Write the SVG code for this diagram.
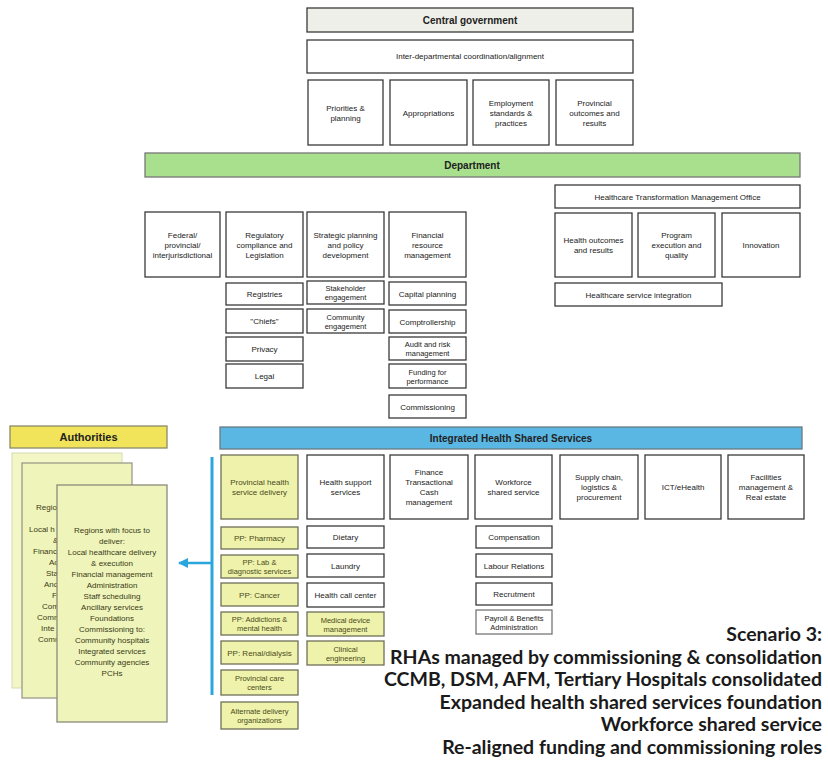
<svg xmlns="http://www.w3.org/2000/svg" width="828" height="762" viewBox="0 0 828 762">
<defs>
<style>
.bx{fill:#ffffff;stroke:#3a3a3a;stroke-width:1.3}
.yb{fill:#eef2aa;stroke:#6f6f5a;stroke-width:1.3}
.t{font-family:"Liberation Sans",Arial,sans-serif;font-size:8px;fill:#222;text-anchor:middle}
.ty{font-family:"Liberation Sans",Arial,sans-serif;font-size:8px;fill:#4a4a1c;text-anchor:middle}
.s{font-size:7.5px}
.h{font-family:"Liberation Sans",Arial,sans-serif;font-size:10px;font-weight:bold;fill:#222;text-anchor:middle}
.big{font-family:Lato,"Liberation Sans",sans-serif;font-size:19.5px;font-weight:bold;fill:#1a1a1a;text-anchor:end}
.card{font-family:"Liberation Sans",Arial,sans-serif;font-size:8px;fill:#3a3a18;text-anchor:middle}
.frag{font-family:"Liberation Sans",Arial,sans-serif;font-size:8px;fill:#3a3a18}
</style>
<clipPath id="cardclip"><rect x="22" y="463" width="35" height="235"/></clipPath>
<marker id="ah" viewBox="0 0 10 10" refX="9" refY="5" markerWidth="4" markerHeight="4" orient="auto">
<path d="M0,0 L10,5 L0,10 z" fill="#2aa6dc"/>
</marker>
</defs>
<rect width="828" height="762" fill="#ffffff"/>

<!-- Central government -->
<g id="central-government"><rect x="307" y="8" width="326" height="24" fill="#efefe9" stroke="#3a3a3a" stroke-width="1.3"/><text class="h" x="470" y="24">Central government</text></g>
<g id="inter-departmental"><rect class="bx" x="307" y="40" width="326" height="33"/><text class="t" x="470" y="59">Inter-departmental coordination/alignment</text></g>
<g id="priorities"><rect class="bx" x="308" y="80" width="75" height="65"/><text class="t"><tspan x="345.5" y="110.5">Priorities &amp;</tspan><tspan x="345.5" y="120.5">planning</tspan></text></g>
<g id="appropriations"><rect class="bx" x="390" y="80" width="77" height="65"/><text class="t" x="428.5" y="115.5">Appropriations</text></g>
<g id="employment"><rect class="bx" x="473" y="80" width="76" height="65"/><text class="t"><tspan x="511" y="105.5">Employment</tspan><tspan x="511" y="115.5">standards &amp;</tspan><tspan x="511" y="125.5">practices</tspan></text></g>
<g id="provincial-outcomes"><rect class="bx" x="556" y="80" width="77" height="65"/><text class="t"><tspan x="594.5" y="105.5">Provincial</tspan><tspan x="594.5" y="115.5">outcomes and</tspan><tspan x="594.5" y="125.5">results</tspan></text></g>

<!-- Department -->
<g id="department"><rect x="145" y="153" width="655" height="24" fill="#a8e08e" stroke="#777" stroke-width="1.3"/><text class="h" x="472" y="168.5">Department</text></g>
<g id="htmo"><rect class="bx" x="555" y="185" width="245" height="23"/><text class="t" x="677.5" y="199.5">Healthcare Transformation Management Office</text></g>
<g id="health-outcomes"><rect class="bx" x="555" y="213" width="77" height="64"/><text class="t"><tspan x="593.5" y="243">Health outcomes</tspan><tspan x="593.5" y="253">and results</tspan></text></g>
<g id="program-execution"><rect class="bx" x="638" y="213" width="77" height="64"/><text class="t"><tspan x="676.5" y="238">Program</tspan><tspan x="676.5" y="248">execution and</tspan><tspan x="676.5" y="258">quality</tspan></text></g>
<g id="innovation"><rect class="bx" x="722" y="213" width="78" height="64"/><text class="t" x="761" y="248">Innovation</text></g>
<g id="service-integration"><rect class="bx" x="555" y="283" width="167" height="23"/><text class="t" x="638.5" y="297.5">Healthcare service integration</text></g>

<g id="federal"><rect class="bx" x="145" y="212" width="75" height="65"/><text class="t"><tspan x="182.5" y="237.5">Federal/</tspan><tspan x="182.5" y="247.5">provincial/</tspan><tspan x="182.5" y="257.5">interjurisdictional</tspan></text></g>
<g id="regulatory"><rect class="bx" x="226" y="212" width="77" height="65"/><text class="t"><tspan x="264.5" y="237.5">Regulatory</tspan><tspan x="264.5" y="247.5">compliance and</tspan><tspan x="264.5" y="257.5">Legislation</tspan></text></g>
<g id="strategic"><rect class="bx" x="307" y="212" width="77" height="65"/><text class="t"><tspan x="345.5" y="237.5">Strategic planning</tspan><tspan x="345.5" y="247.5">and policy</tspan><tspan x="345.5" y="257.5">development</tspan></text></g>
<g id="financial"><rect class="bx" x="389" y="212" width="77" height="65"/><text class="t"><tspan x="427.5" y="237.5">Financial</tspan><tspan x="427.5" y="247.5">resource</tspan><tspan x="427.5" y="257.5">management</tspan></text></g>

<g id="registries"><rect class="bx" x="226" y="283" width="77" height="22"/><text class="t" x="264.5" y="297">Registries</text></g>
<g id="chiefs"><rect class="bx" x="226" y="309" width="77" height="24"/><text class="t" x="264.5" y="324">"Chiefs"</text></g>
<g id="privacy"><rect class="bx" x="226" y="337" width="77" height="24"/><text class="t" x="264.5" y="352">Privacy</text></g>
<g id="legal"><rect class="bx" x="226" y="364" width="77" height="24"/><text class="t" x="264.5" y="379">Legal</text></g>
<g id="stakeholder"><rect class="bx" x="307" y="281" width="77" height="23"/><text class="t s"><tspan x="345.5" y="291">Stakeholder</tspan><tspan x="345.5" y="300">engagement</tspan></text></g>
<g id="community"><rect class="bx" x="307" y="309" width="77" height="24"/><text class="t s"><tspan x="345.5" y="319.5">Community</tspan><tspan x="345.5" y="328.5">engagement</tspan></text></g>
<g id="capital"><rect class="bx" x="389" y="282" width="77" height="23"/><text class="t" x="427.5" y="296.5">Capital planning</text></g>
<g id="comptrollership"><rect class="bx" x="389" y="310" width="77" height="23"/><text class="t" x="427.5" y="324.5">Comptrollership</text></g>
<g id="audit"><rect class="bx" x="389" y="337" width="77" height="23"/><text class="t s"><tspan x="427.5" y="347">Audit and risk</tspan><tspan x="427.5" y="356">management</tspan></text></g>
<g id="funding"><rect class="bx" x="389" y="364" width="77" height="24"/><text class="t s"><tspan x="427.5" y="374.5">Funding for</tspan><tspan x="427.5" y="383.5">performance</tspan></text></g>
<g id="commissioning"><rect class="bx" x="389" y="395" width="77" height="23"/><text class="t" x="427.5" y="409.5">Commissioning</text></g>

<!-- Integrated Health Shared Services -->
<g id="ihss"><rect x="220" y="427" width="582" height="22" fill="#5ab6e2" stroke="#6a7a80" stroke-width="1.3"/><text class="h" x="511" y="441.5">Integrated Health Shared Services</text></g>
<g id="provincial-health"><rect class="yb" x="221" y="455" width="77" height="64"/><text class="ty"><tspan x="259.5" y="485">Provincial health</tspan><tspan x="259.5" y="495">service delivery</tspan></text></g>
<g id="health-support"><rect class="bx" x="307" y="455" width="77" height="64"/><text class="t"><tspan x="345.5" y="485">Health support</tspan><tspan x="345.5" y="495">services</tspan></text></g>
<g id="finance-transactional"><rect class="bx" x="390" y="455" width="78" height="64"/><text class="t"><tspan x="429" y="475">Finance</tspan><tspan x="429" y="485">Transactional</tspan><tspan x="429" y="495">Cash</tspan><tspan x="429" y="505">management</tspan></text></g>
<g id="workforce"><rect class="bx" x="475" y="455" width="77" height="64"/><text class="t"><tspan x="513.5" y="485">Workforce</tspan><tspan x="513.5" y="495">shared service</tspan></text></g>
<g id="supply-chain"><rect class="bx" x="560" y="455" width="78" height="64"/><text class="t"><tspan x="599" y="480">Supply chain,</tspan><tspan x="599" y="490">logistics &amp;</tspan><tspan x="599" y="500">procurement</tspan></text></g>
<g id="ict"><rect class="bx" x="645" y="455" width="76" height="64"/><text class="t" x="683" y="490">ICT/eHealth</text></g>
<g id="facilities"><rect class="bx" x="728" y="455" width="76" height="64"/><text class="t"><tspan x="766" y="480">Facilities</tspan><tspan x="766" y="490">management &amp;</tspan><tspan x="766" y="500">Real estate</tspan></text></g>

<g id="pp-pharmacy"><rect class="yb" x="221" y="527" width="77" height="22"/><text class="ty" x="259.5" y="541">PP:  Pharmacy</text></g>
<g id="pp-lab"><rect class="yb" x="221" y="555" width="77" height="23"/><text class="ty s"><tspan x="259.5" y="565">PP: Lab &amp;</tspan><tspan x="259.5" y="574">diagnostic services</tspan></text></g>
<g id="pp-cancer"><rect class="yb" x="221" y="583" width="77" height="23"/><text class="ty" x="259.5" y="597.5">PP:  Cancer</text></g>
<g id="pp-addictions"><rect class="yb" x="221" y="612" width="77" height="23"/><text class="ty s"><tspan x="259.5" y="622">PP:  Addictions &amp;</tspan><tspan x="259.5" y="631">mental health</tspan></text></g>
<g id="pp-renal"><rect class="yb" x="221" y="641" width="77" height="23"/><text class="ty" x="259.5" y="655.5">PP:  Renal/dialysis</text></g>
<g id="provincial-care"><rect class="yb" x="221" y="670" width="77" height="25"/><text class="ty s"><tspan x="259.5" y="681">Provincial care</tspan><tspan x="259.5" y="690">centers</tspan></text></g>
<g id="alternate-delivery"><rect class="yb" x="221" y="702" width="77" height="27"/><text class="ty s"><tspan x="259.5" y="714">Alternate delivery</tspan><tspan x="259.5" y="723">organizations</tspan></text></g>

<g id="dietary"><rect class="bx" x="307" y="526" width="77" height="22"/><text class="t" x="345.5" y="540">Dietary</text></g>
<g id="laundry"><rect class="bx" x="307" y="554" width="77" height="23"/><text class="t" x="345.5" y="568.5">Laundry</text></g>
<g id="health-call-center"><rect class="bx" x="307" y="583" width="77" height="24"/><text class="t" x="345.5" y="598">Health call center</text></g>
<g id="medical-device"><rect class="yb" x="307" y="612" width="77" height="24"/><text class="ty s"><tspan x="345.5" y="622.5">Medical device</tspan><tspan x="345.5" y="631.5">management</tspan></text></g>
<g id="clinical-engineering"><rect class="yb" x="307" y="641" width="77" height="24"/><text class="ty s"><tspan x="345.5" y="651.5">Clinical</tspan><tspan x="345.5" y="660.5">engineering</tspan></text></g>

<g id="compensation"><rect class="bx" x="476" y="526" width="76" height="22"/><text class="t" x="514" y="540">Compensation</text></g>
<g id="labour-relations"><rect class="bx" x="476" y="554" width="76" height="23"/><text class="t" x="514" y="568.5">Labour Relations</text></g>
<g id="recrutment"><rect class="bx" x="476" y="583" width="76" height="22"/><text class="t" x="514" y="597">Recrutment</text></g>
<g id="payroll"><rect x="476" y="610" width="76" height="24" fill="#ffffff" stroke="#777" stroke-width="1.3"/><text class="t s"><tspan x="514" y="620.5">Payroll &amp; Benefits</tspan><tspan x="514" y="629.5">Administration</tspan></text></g>

<!-- Authorities -->
<g id="authorities"><rect x="10" y="426" width="157" height="22" fill="#f1e35a" stroke="#8a8a6a" stroke-width="1.3"/><text class="h" x="88.5" y="441" style="font-size:11px">Authorities</text></g>
<g id="region-card-3"><rect x="12" y="453" width="110" height="235" fill="#f3f7c6" stroke="#d6dab4" stroke-width="1"/></g>
<g id="region-card-2"><rect x="22" y="463" width="110" height="235" fill="#eff5ba" stroke="#9a9a88" stroke-width="1.3"/>
<g clip-path="url(#cardclip)">
<text class="frag" x="36" y="510">Regio</text>
<text class="frag" x="29" y="532">Local h</text>
<text class="frag" x="53" y="543">&amp;</text>
<text class="frag" x="33" y="554">Financ</text>
<text class="frag" x="49" y="565">Ad</text>
<text class="frag" x="46" y="576">Sta</text>
<text class="frag" x="44" y="587">Anc</text>
<text class="frag" x="52" y="598">F</text>
<text class="frag" x="42" y="609">Com</text>
<text class="frag" x="37" y="620">Comm</text>
<text class="frag" x="41" y="631">Inte</text>
<text class="frag" x="38" y="642">Comm</text>
</g></g>
<g id="region-card-1"><rect x="57" y="485" width="110" height="237" fill="#eff5ba" stroke="#8a8a78" stroke-width="1.3"/>
<text class="card"><tspan x="112" y="533">Regions with focus to</tspan><tspan x="112" y="544">deliver:</tspan><tspan x="112" y="555">Local healthcare delivery</tspan><tspan x="112" y="566">&amp; execution</tspan><tspan x="112" y="577">Financial management</tspan><tspan x="112" y="588">Administration</tspan><tspan x="112" y="599">Staff scheduling</tspan><tspan x="112" y="610">Ancillary services</tspan><tspan x="112" y="621">Foundations</tspan><tspan x="112" y="632">Commissioning to:</tspan><tspan x="112" y="643">Community hospitals</tspan><tspan x="112" y="654">Integrated services</tspan><tspan x="112" y="665">Community agencies</tspan><tspan x="112" y="676">PCHs</tspan></text></g>

<!-- Connectors -->
<g id="connectors">
<line x1="212" y1="457" x2="212" y2="695" stroke="#2aa6dc" stroke-width="3"/>
<line x1="211" y1="563" x2="179" y2="563" stroke="#2aa6dc" stroke-width="2.5" marker-end="url(#ah)"/>
</g>

<!-- Scenario text -->
<g id="scenario">
<text class="big" x="822" y="641">Scenario 3:</text>
<text class="big" x="822" y="663.5">RHAs managed by commissioning &amp; consolidation</text>
<text class="big" x="822" y="686">CCMB, DSM, AFM, Tertiary Hospitals consolidated</text>
<text class="big" x="822" y="708.5">Expanded health shared services foundation</text>
<text class="big" x="822" y="731">Workforce shared service</text>
<text class="big" x="822" y="753.5">Re-aligned funding and commissioning roles</text>
</g>
</svg>
